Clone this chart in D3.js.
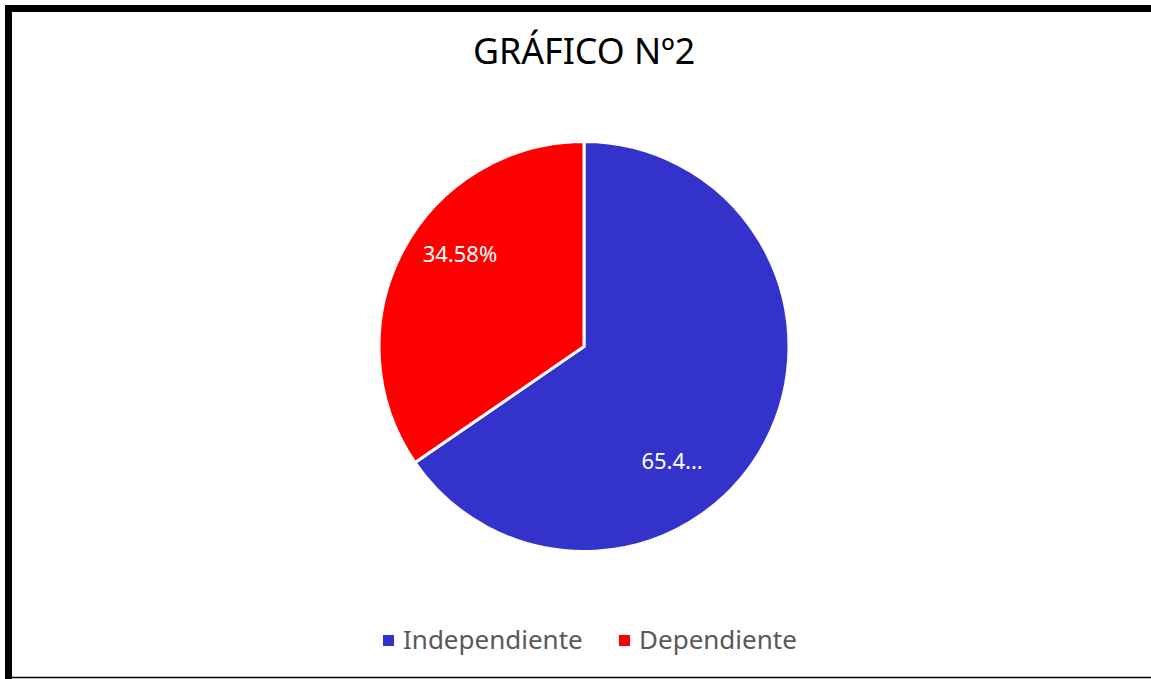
<!DOCTYPE html>
<html><head><meta charset="utf-8">
<script src="https://cdn.jsdelivr.net/npm/d3@7"></script>
<style>html,body{margin:0;padding:0;background:#fff;overflow:hidden}</style>
</head><body>
<svg id="chart" width="1151" height="679"></svg>
<script>
const title = "GRÁFICO Nº2";
const categories = ["Independiente", "Dependiente"];
const values = [65.42, 34.58];
const labelTexts = ["65.4...", "34.58%"];
const colors = ["#3333CC", "#FF0000"];

const svg = d3.select("#chart");
const W = 1151, H = 679;
svg.append("rect").attr("width", W).attr("height", H).attr("fill", "#fff");
// frame
svg.append("path").attr("d", `M8.5,${H} L8.5,8.5 L${W},8.5`).attr("fill","none").attr("stroke","#000").attr("stroke-width",7);
svg.append("line").attr("x1",5).attr("x2",W).attr("y1",677.5).attr("y2",677.5).attr("stroke","#000").attr("stroke-width",1.5);

const font = "'Noto Sans', 'Open Sans', sans-serif";
svg.append("text").attr("x", 584).attr("y", 64).attr("text-anchor","middle")
  .attr("font-family", font).attr("font-size", 35.8).attr("fill","#000").text(title);

const cx = 584, cy = 346.5, R = 205;
const data = categories.map((c,i)=>({cat:c, value:values[i], label:labelTexts[i], color:colors[i]}));
const pie = d3.pie().sort(null).value(d=>d.value);
const arcs = pie(data);
const arc = d3.arc().innerRadius(0).outerRadius(R);
const g = svg.append("g").attr("transform", `translate(${cx},${cy})`);
g.selectAll("path").data(arcs).join("path")
  .attr("d", arc).attr("fill", d=>d.data.color)
  .attr("stroke","#fff").attr("stroke-width",3).attr("stroke-linejoin","round");

// label placement (layout offsets from centroid, Excel best-fit style)
const labelArc = d3.arc().innerRadius(0).outerRadius(R*1.5);
const labelShift = [[-48, 43], [12, -21]];
g.selectAll("text.lbl").data(arcs).join("text").attr("class","lbl")
  .attr("transform", (d,i)=>{const c = labelArc.centroid(d); return `translate(${c[0]+labelShift[i][0]},${c[1]+labelShift[i][1]})`;})
  .attr("text-anchor","middle").attr("dy","0.35em")
  .attr("font-family", font).attr("font-size", 22).attr("fill","#fff")
  .text(d=>d.data.label);

// legend
const legendX = [383, 619];
const lg = svg.append("g");
data.forEach((d,i)=>{
  lg.append("rect").attr("x", legendX[i]).attr("y", 635).attr("width", 11).attr("height", 11).attr("fill", d.color);
  lg.append("text").attr("x", legendX[i]+20).attr("y", 649).attr("font-family", font)
    .attr("font-size", 26).attr("fill", "#595959").text(d.cat);
});
</script>
</body></html>
